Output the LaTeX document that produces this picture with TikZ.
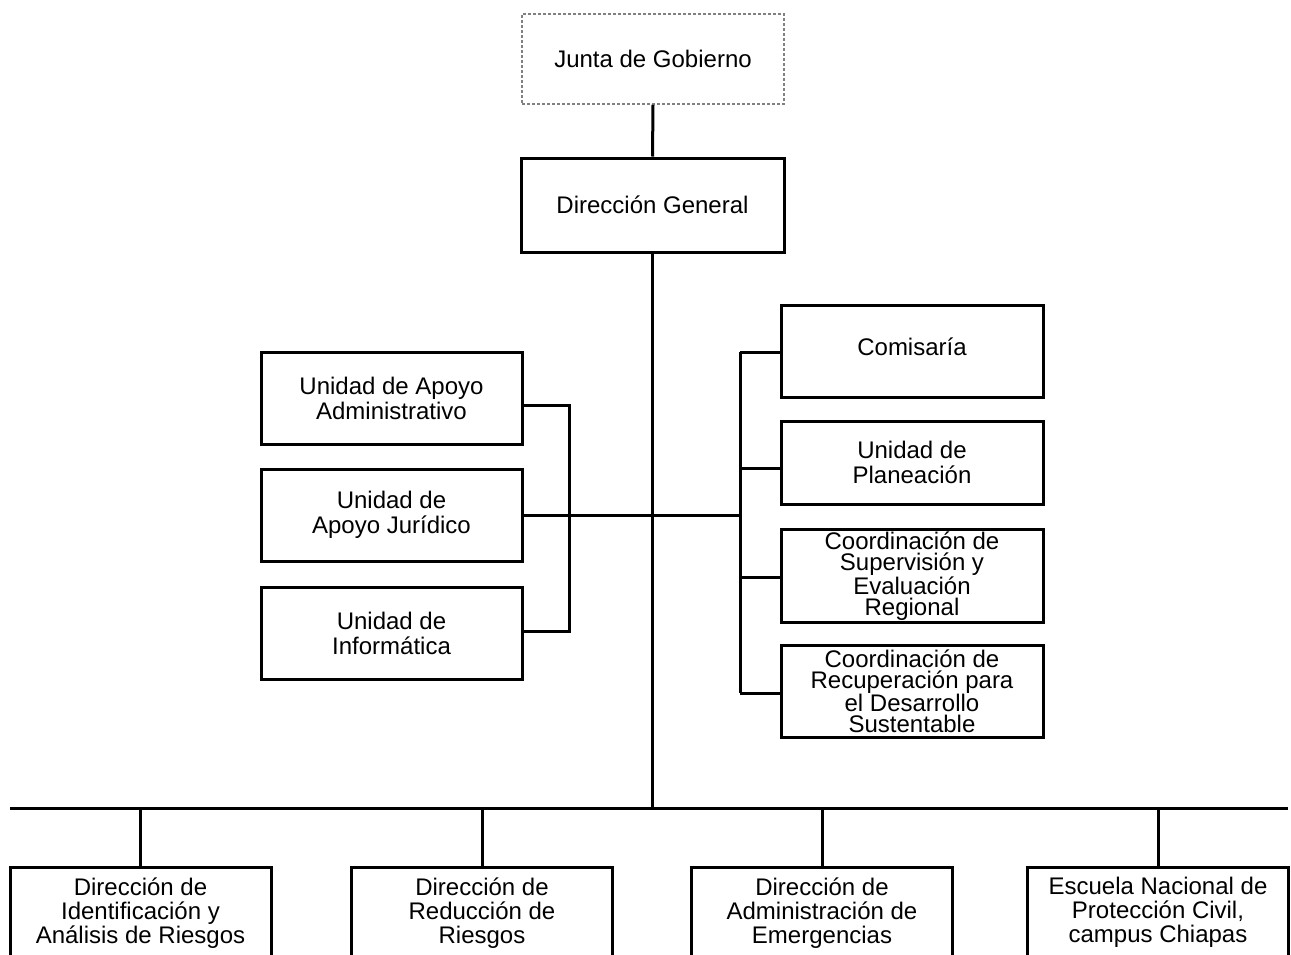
\documentclass[tikz,border=0pt]{standalone}
\usepackage{fontspec}
\setmainfont{Liberation Sans}
\begin{document}
\begin{tikzpicture}[x=1pt,y=-1pt,
  box/.style={draw, line width=3pt, align=center, inner sep=0pt,
    minimum width=#1, font=\fontsize{24}{25}\selectfont},
  cbox/.style={draw, line width=3pt, align=center, inner sep=0pt,
    minimum width=262pt, font=\fontsize{24}{21}\selectfont},
  bbox/.style={draw, line width=3pt, align=center, anchor=north,
    minimum width=261pt, inner xsep=0pt, inner ysep=10pt, text depth=80pt,
    font=\fontsize{24}{24}\selectfont},
  conn/.style={line width=3pt}]
\useasboundingbox (0,0) rectangle (1291,954);
\clip (0,0) rectangle (1291,954);
\node[box=262pt, minimum height=90pt, draw=gray, dotted, line width=1.5pt] (junta) at (653,59) {Junta de Gobierno};
\node[box=263pt, minimum height=94pt] (dg) at (652.5,205) {Dirección General};
\node[box=261pt, minimum height=92pt] (uaa) at (391.5,398) {Unidad de Apoyo\\Administrativo};
\node[box=261pt, minimum height=92pt] (uaj) at (391.5,515) {Unidad de\\Apoyo Jurídico};
\node[box=261pt, minimum height=92pt] (ui) at (391.5,633) {Unidad de\\Informática};
\node[box=262pt, minimum height=92pt, text depth=9pt] (com) at (912,351) {Comisaría};
\node[box=262pt, minimum height=83pt] (upl) at (912,462.5) {Unidad de\\Planeación};
\node[cbox, minimum height=93pt] (csr) at (912,576) {Coordinación de\\Supervisión y\\Evaluación\\Regional};
\node[cbox, minimum height=92pt] (crd) at (912,691) {Coordinación de\\Recuperación para\\el Desarrollo\\Sustentable};
\node[bbox] (b1) at (140.5,866) {Dirección de\\Identificación y\\Análisis de Riesgos};
\node[bbox] (b2) at (482,866) {Dirección de\\Reducción de\\Riesgos};
\node[bbox] (b3) at (822,866) {Dirección de\\Administración de\\Emergencias};
\node[bbox] (b4) at (1158,866) {Escuela Nacional de\\Protección Civil,\\campus Chiapas};
\coordinate (bl) at (10,808);
\coordinate (br) at (1288,808);
\coordinate (lv) at (569,500);
\coordinate (rv) at (740,500);
\coordinate (uaaE) at ([yshift=-7pt]uaa.east);
\coordinate (uiE) at ([yshift=2pt]ui.east);
\coordinate (comW) at ([yshift=-1pt]com.west);
\coordinate (uplW) at ([yshift=-5.5pt]upl.west);
\coordinate (csrW) at ([yshift=-1pt]csr.west);
\coordinate (crdW) at ([yshift=-2pt]crd.west);
\draw[conn] (junta.south) -- (dg.north);
\draw[conn] (dg.south) -- (dg.south |- bl);
\draw[conn] (bl) -- (br);
\foreach \b in {b1,b2,b3,b4} \draw[conn] (\b.north) -- (\b.north |- bl);
\draw[conn] (uaaE) -- (uaaE -| lv) -- (uiE -| lv) -- (uiE);
\draw[conn] (uaj.east) -- (uaj.east -| rv);
\draw[conn] (comW -| rv) -- (crdW -| rv);
\foreach \b in {comW,uplW,csrW,crdW} \draw[conn] (\b) -- (\b -| rv);
\end{tikzpicture}
\end{document}
